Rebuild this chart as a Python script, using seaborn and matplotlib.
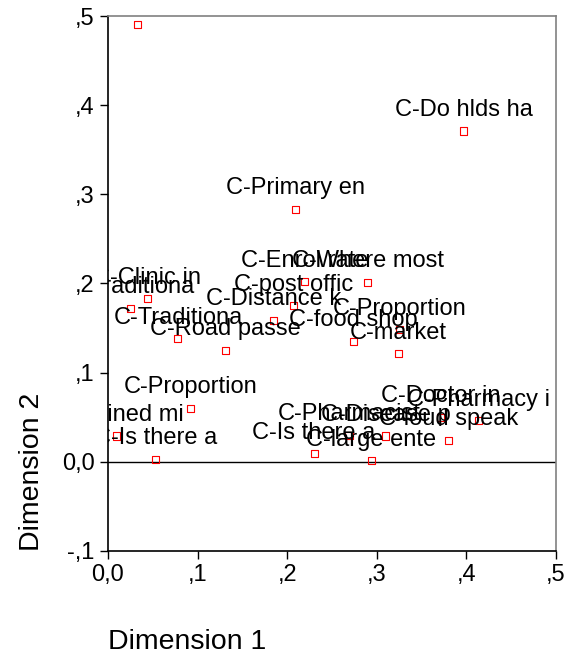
import pandas as pd
import matplotlib.pyplot as plt
import seaborn as sns
from matplotlib.ticker import FuncFormatter

labels = [
    '', 'C-Do hlds ha', 'C-Primary en', 'C-Enrol rate', 'C-Where most',
    'C-Clinic in', 'C-Traditiona', 'C-post offic', 'C-Distance k',
    'C-Traditiona', 'C-Road passe', 'C-Proportion', 'C-food shop',
    'C-market', 'C-Proportion', 'C-Trained mi', 'C-Is there a',
    'C-Is there a', 'C-Pharmacist', 'C-Disease p', 'C-large ente',
    'C-loud speak', 'C-Doctor in', 'C-Pharmacy i'
]
dim1 = [
    0.033, 0.397, 0.209, 0.219, 0.290,
    0.044, 0.025, 0.207, 0.185,
    0.078, 0.131, 0.325, 0.274,
    0.324, 0.092, 0.009, 0.053,
    0.230, 0.269, 0.310, 0.294,
    0.380, 0.371, 0.413
]
dim2 = [
    0.490, 0.371, 0.283, 0.202, 0.2015,
    0.183, 0.172, 0.175, 0.159,
    0.138, 0.125, 0.148, 0.135,
    0.121, 0.060, 0.029, 0.003,
    0.009, 0.030, 0.029, 0.001,
    0.024, 0.050, 0.046
]

df = pd.DataFrame({'Label': labels, 'Dimension 1': dim1, 'Dimension 2': dim2})

sns.set_style("white")
plt.rcParams['font.family'] = ['Liberation Sans', 'DejaVu Sans']
plt.rcParams['text.color'] = 'black'
plt.rcParams['axes.labelcolor'] = 'black'

fig = plt.figure(figsize=(5.66, 6.6), dpi=100)
ax = fig.add_axes([108 / 566, 109 / 660, 448 / 566, 535 / 660])

sns.scatterplot(data=df, x='Dimension 1', y='Dimension 2', ax=ax, marker='s',
                s=26, facecolor='none', edgecolor='red', linewidth=0.8, zorder=3)

for _, row in df.iterrows():
    ax.annotate(row['Label'], (row['Dimension 1'], row['Dimension 2']),
                xytext=(0, 15), textcoords='offset pixels', ha='center',
                va='baseline', fontsize=17, color='black', clip_on=True)

ax.axhline(0, color='black', linewidth=1)
ax.set_xlim(0, 0.5)
ax.set_ylim(-0.1, 0.5)
ax.set_xticks([0, 0.1, 0.2, 0.3, 0.4, 0.5])
ax.set_yticks([-0.1, 0, 0.1, 0.2, 0.3, 0.4, 0.5])


def fmt(v, pos):
    s = f"{v:.1f}".replace('.', ',')
    if abs(v) > 1e-9:
        s = s.replace('0,', ',')
    return s


ax.xaxis.set_major_formatter(FuncFormatter(fmt))
ax.yaxis.set_major_formatter(FuncFormatter(fmt))
ax.tick_params(axis='both', direction='out', length=6, width=1, labelsize=17,
               colors='black', bottom=True, left=True)

for side in ['left', 'bottom']:
    ax.spines[side].set_color('black')
    ax.spines[side].set_linewidth(1.2)
for side in ['top', 'right']:
    ax.spines[side].set_color('#808080')
    ax.spines[side].set_linewidth(1.2)

ax.set_xlabel('Dimension 1', fontsize=20.5, loc='left', color='black')
ax.set_ylabel('Dimension 2', fontsize=20.5, loc='bottom', color='black')
ax.xaxis.set_label_coords(0.0, -0.145)
ax.yaxis.set_label_coords(-0.14, 0.0)

fig.savefig('out.png', dpi=100)
